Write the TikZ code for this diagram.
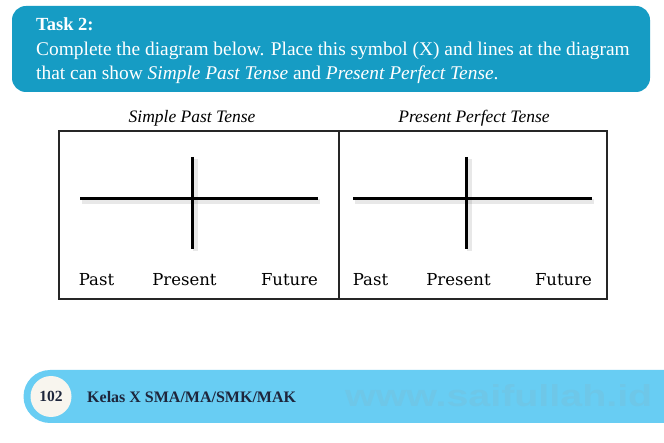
\documentclass[tikz,border=0pt]{standalone}
\usepackage{fontspec}
\setmainfont{Liberation Serif}
\newfontfamily\labfont{DejaVu Serif}
\newfontfamily\wmfont{Liberation Sans}
\usetikzlibrary{calc}
\definecolor{taskblue}{RGB}{22,156,196}
\definecolor{barblue}{RGB}{104,205,243}
\definecolor{cream}{RGB}{248,245,238}
\definecolor{navy}{RGB}{30,38,60}
\definecolor{wmcol}{RGB}{110,199,232}
\tikzset{
  tline/.style={line width=3pt,black},
  tshadow/.style={line width=5pt,black,opacity=0.09},
  lab/.style={inner sep=0pt,anchor=base,font=\labfont\fontsize{16.5}{19}\selectfont},
  ttl/.style={inner sep=0pt,anchor=base,font=\itshape\fontsize{17.5}{20}\selectfont},
  tasktxt/.style={inner sep=0pt,anchor=base west,text=white,font=\fontsize{19.4}{23}\selectfont},
}
\begin{document}
\begin{tikzpicture}[x=1pt,y=-1pt]
\useasboundingbox (0,0) rectangle (664,443);
\fill[white] (0,0) rectangle (664,443);
% task box
\fill[taskblue,rounded corners=14pt] (12,6) rectangle (650,92);
\node[tasktxt,font=\bfseries\fontsize{18.5}{22}\selectfont] (task) at (36,31) {Task 2:};
\node[tasktxt] (l1) at (36,56) {Complete the diagram below. Place this symbol (X) and lines at the diagram};
\node[tasktxt] (l2) at (36,80) {that can show \textit{Simple Past Tense} and \textit{Present Perfect Tense}.};
% titles
\node[ttl] (t1) at (192,123) {Simple Past Tense};
\node[ttl] (t2) at (474,123) {Present Perfect Tense};
% boxes
\draw[line width=1.3pt,black!85] (59,131) rectangle (607,299);
\draw[line width=1.3pt,black!85] (339,131) -- (339,299);
% left panel
\coordinate (a1) at (80,199); \coordinate (a2) at (318,199);
\coordinate (a3) at (192,157); \coordinate (a4) at (192,249);
\draw[tshadow] ($(a1)+(2,3)$) -- ($(a2)+(2,3)$);
\draw[tshadow] ($(a3)+(3,2)$) -- ($(a4)+(3,2)$);
\draw[tline] (a1) -- (a2);
\draw[tline] (a3) -- (a4);
\node[lab] (p1) at (96.5,286) {Past};
\node[lab] (pr1) at (184.5,286) {Present};
\node[lab] (f1) at (289.5,286) {Future};
% right panel
\coordinate (b1) at (353,199); \coordinate (b2) at (592,199);
\coordinate (b3) at (466,157); \coordinate (b4) at (466,249);
\draw[tshadow] ($(b1)+(2,3)$) -- ($(b2)+(2,3)$);
\draw[tshadow] ($(b3)+(3,2)$) -- ($(b4)+(3,2)$);
\draw[tline] (b1) -- (b2);
\draw[tline] (b3) -- (b4);
\node[lab] (p2) at (370.5,286) {Past};
\node[lab] (pr2) at (458.5,286) {Present};
\node[lab] (f2) at (563.5,286) {Future};
% bottom bar
\fill[barblue] (50,370) arc[start angle=90,end angle=270,radius=26.5pt] -- (664,423) -- (664,370) -- cycle;
\fill[cream] (51,396.5) circle[radius=20.5pt];
\node[inner sep=0pt,text=navy,font=\bfseries\fontsize{15.5}{18}\selectfont] (pg) at (51,396.5) {102};
\node[inner sep=0pt,anchor=west,text=navy,font=\bfseries\fontsize{16}{18}\selectfont] (kls) at (87,397) {Kelas X SMA/MA/SMK/MAK};
\node[inner sep=0pt,anchor=west,text=wmcol] (wm) at (345,396) {\resizebox{307pt}{22pt}{\wmfont\bfseries www.saifullah.id}};
\end{tikzpicture}
\end{document}
